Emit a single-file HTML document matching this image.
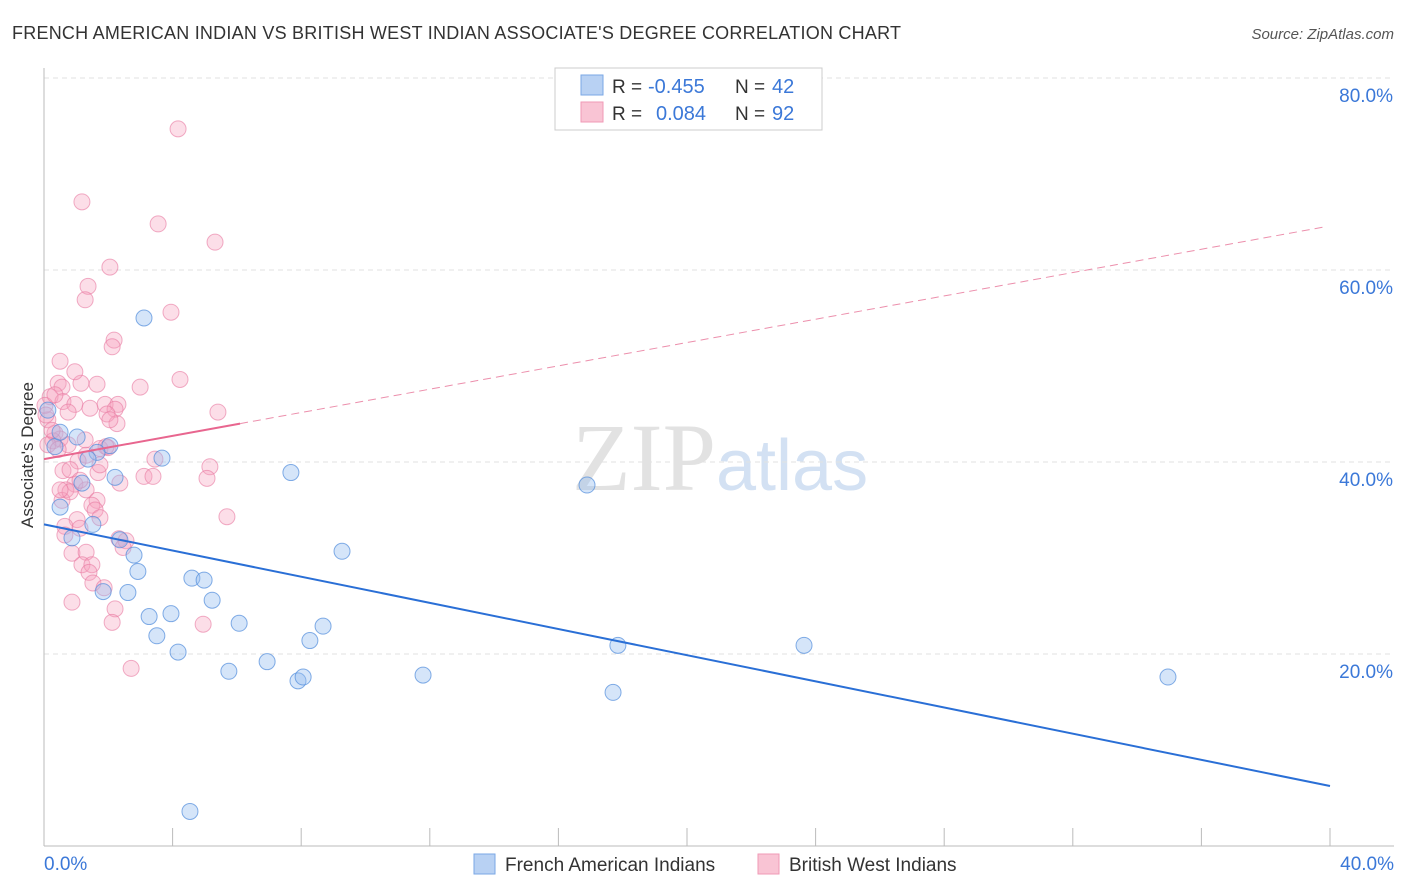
<!DOCTYPE html>
<html><head><meta charset="utf-8"><style>
body{margin:0;background:#fff;font-family:"Liberation Sans",sans-serif}
svg{display:block}
</style></head><body>
<svg id="c" width="1406" height="892" xmlns="http://www.w3.org/2000/svg">
<text x="12" y="39" font-size="18" fill="#333" textLength="889">FRENCH AMERICAN INDIAN VS BRITISH WEST INDIAN ASSOCIATE'S DEGREE CORRELATION CHART</text>
<text x="1394" y="39" font-size="15" fill="#555" font-style="italic" text-anchor="end">Source: ZipAtlas.com</text>
<text x="716" y="490" font-size="96" fill="#e2e2e2" text-anchor="end" font-family="Liberation Serif,serif">ZIP</text>
<text x="716" y="490" font-size="72" fill="#d3e1f3">atlas</text>
<g id="grid"></g><g id="axes"></g><g id="marks"></g>
<text x="33" y="455" font-size="17" fill="#333" text-anchor="middle" transform="rotate(-90 33 455)">Associate's Degree</text>
<g>
<rect x="555" y="68" width="267" height="62" fill="#fff" stroke="#ccc"/>
<rect x="581" y="75" width="22" height="20" fill="#b8d1f3" stroke="#7aa7e6"/>
<rect x="581" y="102" width="22" height="20" fill="#f9c4d4" stroke="#f09ab6"/>
<text x="612" y="93" font-size="19" fill="#333">R =</text>
<text x="648" y="93" font-size="20" fill="#3b78d8">-0.455</text>
<text x="735" y="93" font-size="19" fill="#333">N =</text>
<text x="772" y="93" font-size="20" fill="#3b78d8">42</text>
<text x="612" y="120" font-size="19" fill="#333">R =</text>
<text x="656" y="120" font-size="20" fill="#3b78d8">0.084</text>
<text x="735" y="120" font-size="19" fill="#333">N =</text>
<text x="772" y="120" font-size="20" fill="#3b78d8">92</text>
</g>
<g>
<rect x="474" y="854" width="21" height="20" fill="#b8d1f3" stroke="#7aa7e6"/>
<text x="505" y="871" font-size="19" fill="#333">French American Indians</text>
<rect x="758" y="854" width="21" height="20" fill="#f9c4d4" stroke="#f09ab6"/>
<text x="789" y="871" font-size="19" fill="#333">British West Indians</text>
</g>
</svg>
<script>
const xTicks=[0,4,8,12,16,20,24,28,32,36,40];
const yTicks=[20,40,60,80];
const blueX=[3.11,1.03,2.05,1.65,1.37,2.21,0.50,1.52,0.87,2.36,2.80,2.92,1.84,2.61,4.60,4.98,5.23,3.27,3.95,3.51,4.17,6.07,5.75,6.94,7.90,8.06,8.27,8.68,7.68,9.27,3.67,11.79,16.89,17.85,17.70,23.64,34.96,4.54,0.34,0.12,0.50,1.18];
const blueY=[55.0,42.6,41.7,41.0,40.3,38.4,35.3,33.5,32.1,31.9,30.3,28.6,26.5,26.4,27.9,27.7,25.6,23.9,24.2,21.9,20.2,23.2,18.2,19.2,17.2,17.6,21.4,22.9,38.9,30.7,40.4,17.8,37.6,20.9,16.0,20.9,17.6,3.6,41.6,45.4,43.1,37.8];
const pinkX=[4.17,1.18,3.55,5.32,2.05,1.37,1.28,3.95,2.18,2.12,0.50,4.23,0.44,1.15,1.65,0.56,2.99,0.19,0.59,0.96,1.90,2.30,1.43,2.21,5.41,1.96,0.12,2.27,0.34,0.50,0.28,0.75,1.74,1.99,1.31,3.45,1.06,5.16,1.68,3.11,3.39,5.07,2.36,0.59,0.96,0.68,1.31,0.56,1.65,1.49,0.81,1.59,1.03,1.74,0.65,1.12,2.33,2.55,2.46,0.87,1.31,1.18,1.49,1.40,1.52,1.87,2.21,2.12,4.95,0.87,2.71,5.69,0.03,0.06,0.12,0.34,0.81,1.12,0.65,1.74,1.93,0.50,0.44,1.28,2.05,0.75,0.25,0.96];
const pinkY=[74.7,67.1,64.8,62.9,60.3,58.3,56.9,55.6,52.7,52.0,50.5,48.6,48.2,48.2,48.1,47.8,47.8,46.8,46.3,46.0,46.0,46.0,45.6,45.5,45.2,45.0,44.4,44.0,43.0,42.4,42.2,41.8,41.4,41.5,40.7,40.3,40.1,39.5,38.9,38.5,38.5,38.3,37.8,39.1,37.7,37.1,37.1,36.0,36.0,35.5,36.9,35.0,34.0,34.2,33.3,33.1,32.0,31.8,31.1,30.5,30.6,29.3,29.3,28.5,27.4,26.9,24.7,23.3,23.1,25.4,18.5,34.3,45.9,44.9,41.8,47.0,39.2,38.1,32.4,39.7,41.6,37.1,41.3,42.3,44.4,45.2,43.3,49.4];
const blueTrend=[0,33.5,40,6.25];
const pinkTrend=[0,40.3,6.1,44.0,39.85,64.5];
const NS="http://www.w3.org/2000/svg";
const sx=v=>44+v*32.15, sy=v=>846-v*9.6;
function mk(t,a,p){const e=document.createElementNS(NS,t);for(const k in a)e.setAttribute(k,a[k]);document.getElementById(p).appendChild(e);return e;}
yTicks.forEach(t=>{
 const l=mk('line',{x1:44,x2:1394,y1:sy(t),y2:sy(t),stroke:'#e2e2e2','stroke-dasharray':'5,4'},'grid');
 
 
 const tx=mk('text',{x:1393,y:sy(t)+24,'font-size':19,fill:'#3b78d8','text-anchor':'end'},'axes');
 tx.textContent=t.toFixed(1)+'%';
 
 
});
const ax=mk('line',{x1:44,x2:44,y1:68,y2:846,stroke:'#bbb'},'axes');


const bx=mk('line',{x1:44,x2:1394,y1:846,y2:846,stroke:'#bbb'},'axes');


xTicks.forEach(t=>{
 const l=mk('line',{x1:sx(t),x2:sx(t),y1:828,y2:846,stroke:'#bbb'},'axes');
 
 
});
[[0,'start',44],[40,'end',1394]].forEach(([t,a,x])=>{
 const tx=mk('text',{x:x,y:870,'font-size':19,fill:'#3b78d8','text-anchor':a},'axes');
 tx.textContent=t.toFixed(1)+'%';
 
 
});
pinkX.forEach((v,i)=>{
 const c=mk('circle',{cx:sx(v),cy:sy(pinkY[i]),r:8,fill:'rgba(246,160,190,0.35)',stroke:'rgba(232,120,160,0.6)'},'marks');
 
 
});
blueX.forEach((v,i)=>{
 const c=mk('circle',{cx:sx(v),cy:sy(blueY[i]),r:8,fill:'rgba(150,190,240,0.4)',stroke:'rgba(80,140,220,0.7)'},'marks');
 
 
});
const bt=mk('line',{x1:sx(blueTrend[0]),y1:sy(blueTrend[1]),x2:sx(blueTrend[2]),y2:sy(blueTrend[3]),stroke:'#2a6fd6','stroke-width':2},'marks');


const pt=mk('line',{x1:sx(pinkTrend[0]),y1:sy(pinkTrend[1]),x2:sx(pinkTrend[2]),y2:sy(pinkTrend[3]),stroke:'#e8668f','stroke-width':2},'marks');


const pd=mk('line',{x1:sx(pinkTrend[2]),y1:sy(pinkTrend[3]),x2:sx(pinkTrend[4]),y2:sy(pinkTrend[5]),stroke:'#ec8fac','stroke-width':1,'stroke-dasharray':'8,5'},'marks');


</script>
</body></html>
